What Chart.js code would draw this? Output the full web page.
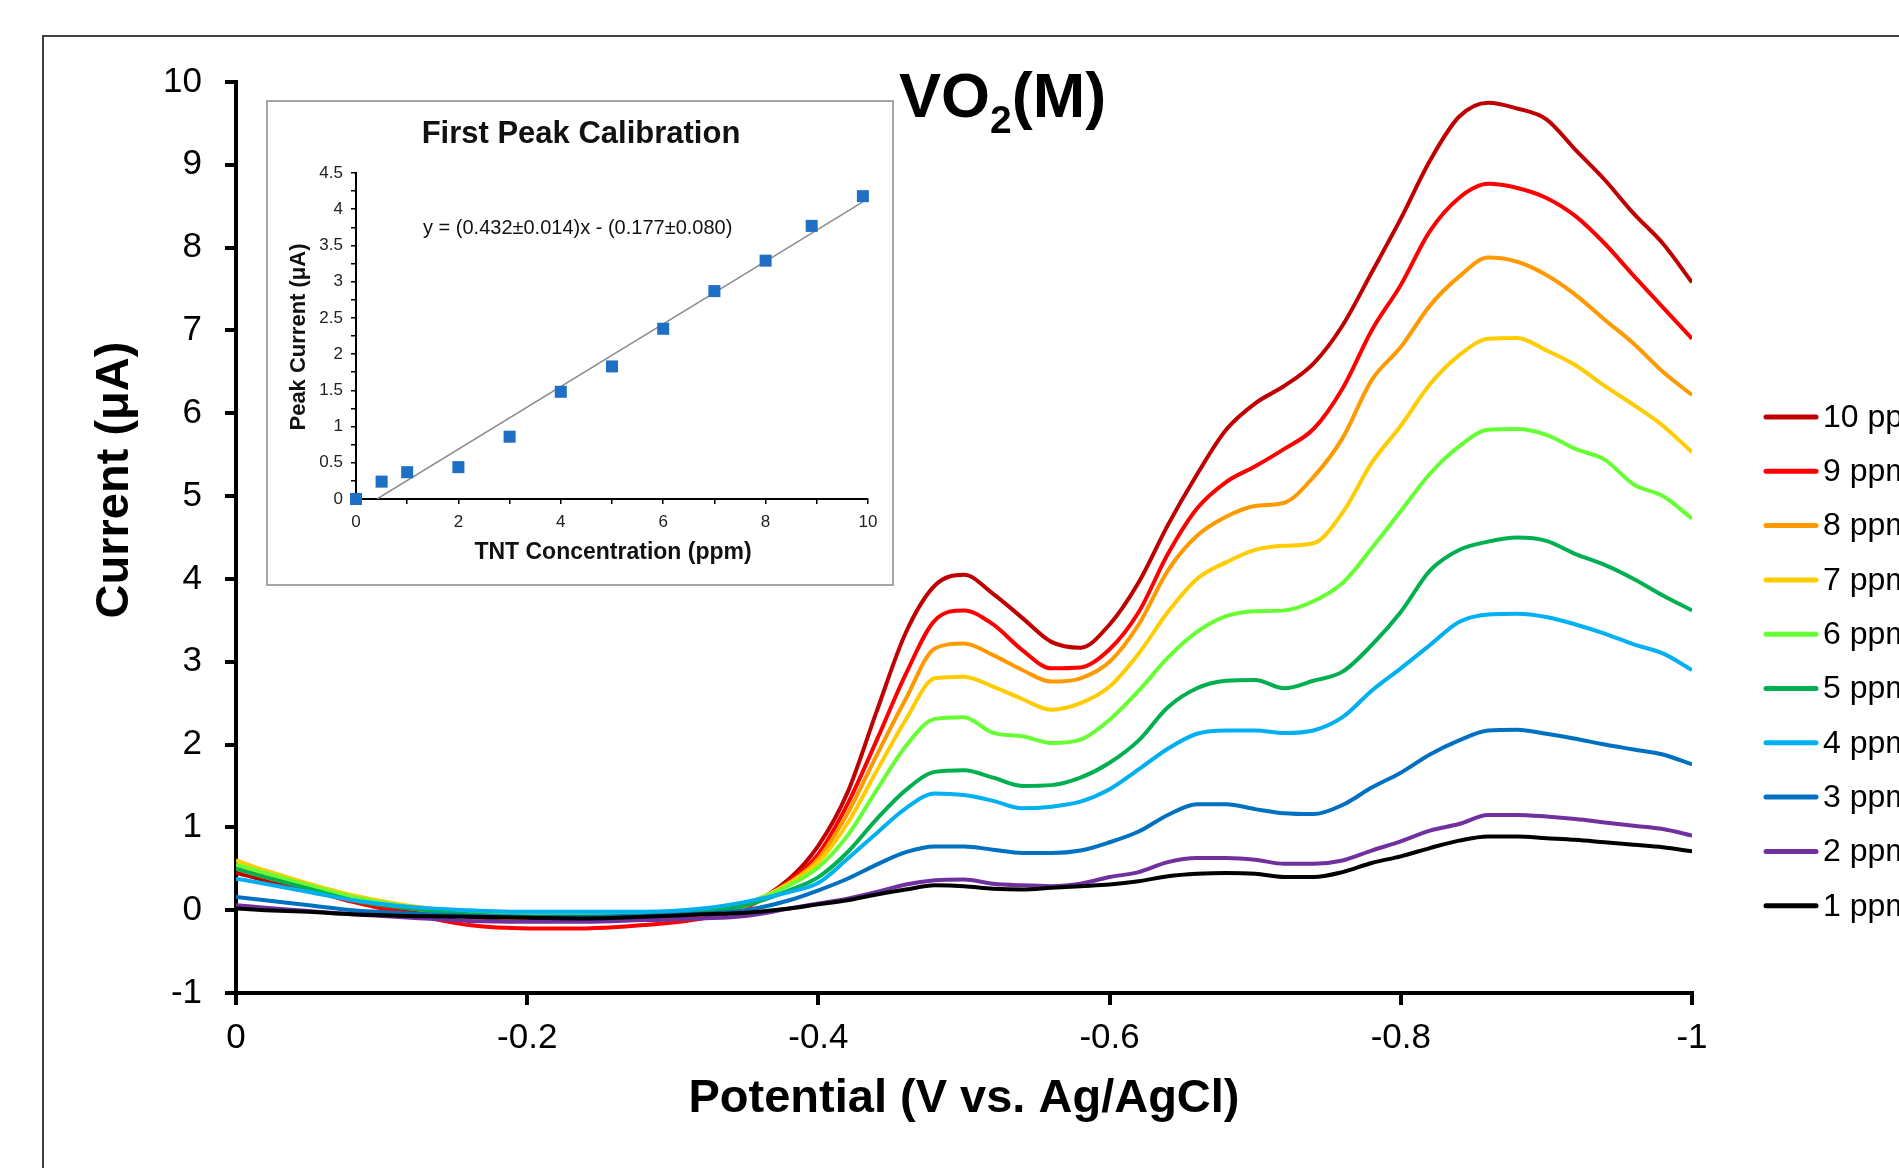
<!DOCTYPE html>
<html>
<head>
<meta charset="utf-8">
<title>VO2(M) - TNT voltammograms</title>
<script src="https://cdn.jsdelivr.net/npm/chart.js@4.4.1/dist/chart.umd.min.js"></script>
<style>
  html, body { margin: 0; padding: 0; background: #fff; overflow: hidden; }
  #wrap { position: relative; width: 1899px; height: 1168px; }
  #mainChart { position: absolute; left: 0; top: 0; }
  #insetBox { position: absolute; left: 266px; top: 100px; width: 624px; height: 482px;
              border: 2px solid #a6a6a6; background: #fff; }
  #insetChart { display: block; }
</style>
</head>
<body>
<div id="wrap">
  <canvas id="mainChart" width="1899" height="1168"></canvas>
  <div id="insetBox"><canvas id="insetChart" width="624" height="482"></canvas></div>
</div>
<script>
// Potential axis (V vs. Ag/AgCl), shared by every curve
const potential = [0, -0.02, -0.05, -0.08, -0.12, -0.16, -0.20, -0.24, -0.28, -0.32, -0.35,
  -0.38, -0.40, -0.42, -0.44, -0.46, -0.48, -0.50, -0.52, -0.54, -0.56, -0.58,
  -0.60, -0.62, -0.64, -0.66, -0.68, -0.70, -0.72, -0.74, -0.76, -0.78, -0.80,
  -0.82, -0.84, -0.86, -0.88, -0.90, -0.92, -0.94, -0.96, -0.98, -1.00];

// Current (uA) for each TNT concentration
const ppm10 = [0.45, 0.36, 0.24, 0.12, 0.0, -0.08, -0.12, -0.12, -0.1, -0.05, 0.05,
  0.38, 0.78, 1.42, 2.4, 3.35, 3.92, 4.05, 3.82, 3.53, 3.24, 3.17,
  3.45, 3.96, 4.65, 5.26, 5.8, 6.12, 6.33, 6.6, 7.06, 7.7, 8.35,
  9.05, 9.58, 9.75, 9.68, 9.55, 9.18, 8.82, 8.41, 8.05, 7.58];
const ppm9 = [0.5, 0.4, 0.25, 0.1, -0.05, -0.18, -0.22, -0.22, -0.18, -0.1, 0.03,
  0.35, 0.68, 1.28, 2.05, 2.85, 3.5, 3.62, 3.45, 3.14, 2.92, 2.93,
  3.15, 3.6, 4.3, 4.85, 5.17, 5.36, 5.57, 5.81, 6.3, 7.0, 7.55,
  8.2, 8.6, 8.77, 8.72, 8.6, 8.38, 8.05, 7.66, 7.28, 6.9];
const ppm8 = [0.5, 0.4, 0.27, 0.14, 0.02, -0.06, -0.1, -0.1, -0.08, -0.03, 0.05,
  0.33, 0.62, 1.17, 1.87, 2.55, 3.16, 3.22, 3.08, 2.9, 2.76, 2.8,
  3.0, 3.45, 4.1, 4.52, 4.75, 4.88, 4.92, 5.23, 5.7, 6.4, 6.8,
  7.3, 7.65, 7.88, 7.83, 7.67, 7.43, 7.13, 6.84, 6.5, 6.22];
const ppm7 = [0.6, 0.48, 0.32, 0.18, 0.05, -0.03, -0.06, -0.06, -0.05, -0.01, 0.08,
  0.33, 0.58, 1.05, 1.68, 2.3, 2.8, 2.82, 2.7, 2.55, 2.42, 2.5,
  2.7, 3.1, 3.6, 4.0, 4.2, 4.35, 4.4, 4.43, 4.8, 5.4, 5.85,
  6.35, 6.7, 6.9, 6.91, 6.76, 6.58, 6.33, 6.1, 5.85, 5.53];
const ppm6 = [0.55, 0.45, 0.3, 0.16, 0.04, -0.03, -0.06, -0.06, -0.05, -0.01, 0.08,
  0.3, 0.52, 0.9, 1.45, 1.98, 2.31, 2.33, 2.14, 2.1, 2.02, 2.06,
  2.3, 2.65, 3.05, 3.36, 3.55, 3.61, 3.62, 3.73, 3.95, 4.37, 4.82,
  5.27, 5.6, 5.8, 5.81, 5.74, 5.57, 5.44, 5.14, 5.0, 4.73];
const ppm5 = [0.5, 0.4, 0.26, 0.12, 0.02, -0.05, -0.08, -0.08, -0.06, -0.02, 0.06,
  0.24, 0.4, 0.7, 1.1, 1.45, 1.67, 1.69, 1.6, 1.5, 1.51, 1.6,
  1.78, 2.05, 2.45, 2.68, 2.77, 2.78, 2.68, 2.77, 2.88, 3.2, 3.6,
  4.1, 4.35, 4.45, 4.5, 4.46, 4.3, 4.17, 4.0, 3.8, 3.62];
const ppm4 = [0.38, 0.32, 0.22, 0.12, 0.04, 0.0, -0.02, -0.02, -0.02, 0.02, 0.1,
  0.22, 0.33, 0.62, 0.93, 1.23, 1.41, 1.39, 1.32, 1.23, 1.25, 1.31,
  1.46, 1.7, 1.95, 2.13, 2.17, 2.17, 2.14, 2.17, 2.33, 2.65, 2.92,
  3.2, 3.48, 3.57, 3.58, 3.54, 3.45, 3.34, 3.21, 3.1, 2.9];
const ppm3 = [0.16, 0.12, 0.06, 0.0, -0.04, -0.07, -0.08, -0.08, -0.07, -0.04, 0.0,
  0.12, 0.24, 0.38, 0.55, 0.7, 0.77, 0.77, 0.73, 0.69, 0.69, 0.72,
  0.82, 0.95, 1.15, 1.28, 1.28, 1.22, 1.17, 1.16, 1.27, 1.48, 1.66,
  1.88, 2.05, 2.17, 2.18, 2.13, 2.07, 2.0, 1.94, 1.88, 1.76];
const ppm2 = [0.06, 0.03, -0.01, -0.05, -0.09, -0.13, -0.14, -0.14, -0.12, -0.1, -0.07,
  0.02, 0.08, 0.14, 0.22, 0.31, 0.36, 0.37, 0.32, 0.3, 0.29, 0.32,
  0.4, 0.46, 0.58, 0.63, 0.63, 0.61, 0.56, 0.56, 0.6, 0.72, 0.83,
  0.96, 1.04, 1.15, 1.15, 1.13, 1.1, 1.06, 1.02, 0.98, 0.9];
const ppm1 = [0.02, 0.0, -0.02, -0.05, -0.07, -0.08, -0.09, -0.1, -0.08, -0.05, -0.03,
  0.02, 0.07, 0.12, 0.19, 0.25, 0.3, 0.29, 0.26, 0.25, 0.27, 0.29,
  0.31, 0.35, 0.41, 0.44, 0.45, 0.44, 0.4, 0.4, 0.46, 0.57, 0.65,
  0.75, 0.84, 0.89, 0.89, 0.87, 0.85, 0.82, 0.79, 0.76, 0.71];

// 1 ppm first so that it is painted on top (Chart.js draws dataset 0 last)
const seriesLabels = ['1 ppm', '2 ppm', '3 ppm', '4 ppm', '5 ppm', '6 ppm', '7 ppm', '8 ppm', '9 ppm', '10 ppm'];
const seriesColors = ['#000000', '#7030a0', '#0070c0', '#00b0f0', '#00b050', '#66ff33', '#ffcc00', '#ff9900', '#ff0000', '#c00000'];
const seriesValues = [ppm1, ppm2, ppm3, ppm4, ppm5, ppm6, ppm7, ppm8, ppm9, ppm10];

// Inset: first peak calibration
const tntConc = [0, 0.5, 1, 2, 3, 4, 5, 6, 7, 8, 8.9, 9.9];
const peakCurrent = [0, 0.24, 0.37, 0.44, 0.86, 1.48, 1.83, 2.35, 2.87, 3.29, 3.77, 4.18];
const fitConc = [0.41, 9.9];
const fitCurrent = [0, 4.1];

const FONT = "'Liberation Sans', Arial, sans-serif";
Chart.defaults.font.family = FONT;
Chart.defaults.color = '#000';

function toPoints(xs, ys) {
    return xs.map((x, i) => ({ x: x, y: ys[i] }));
}

// Frame, title, axis titles and legend of the main chart
const mainDecor = {
    id: 'mainDecor',
    beforeDraw(chart) {
        const ctx = chart.ctx;
        ctx.save();
        ctx.fillStyle = '#fff';
        ctx.fillRect(0, 0, chart.width, chart.height);
        ctx.strokeStyle = '#404040';
        ctx.lineWidth = 2;
        ctx.strokeRect(43, 36, chart.width, chart.height);
        ctx.restore();
    },
    afterDraw(chart) {
        const ctx = chart.ctx;
        const area = chart.chartArea;
        ctx.save();
        ctx.fillStyle = '#000';

        // VO2(M) with subscript
        ctx.textBaseline = 'alphabetic';
        ctx.textAlign = 'left';
        let x = 899;
        ctx.font = 'bold 63px ' + FONT;
        ctx.fillText('VO', x, 117);
        x += ctx.measureText('VO').width;
        ctx.font = 'bold 39px ' + FONT;
        ctx.fillText('2', x, 133);
        x += ctx.measureText('2').width;
        ctx.font = 'bold 63px ' + FONT;
        ctx.fillText('(M)', x, 117);

        // axis titles
        ctx.font = 'bold 47px ' + FONT;
        ctx.textAlign = 'center';
        ctx.fillText('Potential (V vs. Ag/AgCl)', (area.left + area.right) / 2, 1112);
        ctx.textBaseline = 'middle';
        ctx.save();
        ctx.translate(115, 480);
        ctx.rotate(-Math.PI / 2);
        ctx.fillText('Current (\u03bcA)', 0, 0);
        ctx.restore();

        // legend, 10 ppm at the top
        ctx.font = '32px ' + FONT;
        ctx.textAlign = 'left';
        ctx.lineCap = 'round';
        ctx.lineWidth = 5;
        for (let i = 0; i < seriesLabels.length; i++) {
            const idx = seriesLabels.length - 1 - i;
            const y = 417 + i * 54.3;
            ctx.strokeStyle = seriesColors[idx];
            ctx.beginPath();
            ctx.moveTo(1766, y);
            ctx.lineTo(1816, y);
            ctx.stroke();
            ctx.fillText(seriesLabels[idx], 1823, y + 1);
        }
        ctx.restore();
    }
};

new Chart(document.getElementById('mainChart'), {
    type: 'line',
    data: {
        datasets: seriesValues.map((vals, i) => ({
            label: seriesLabels[i],
            data: toPoints(potential, vals),
            borderColor: seriesColors[i],
            backgroundColor: seriesColors[i],
            borderWidth: 4,
            pointRadius: 0,
            fill: false,
            cubicInterpolationMode: 'monotone'
        }))
    },
    options: {
        responsive: false,
        animation: false,
        layout: { padding: { left: 0, top: 82, right: 207, bottom: 0 } },
        plugins: {
            legend: { display: false },
            tooltip: { enabled: false }
        },
        scales: {
            x: {
                type: 'linear',
                reverse: true,
                min: -1,
                max: 0,
                ticks: {
                    stepSize: 0.2,
                    autoSkip: false,
                    maxRotation: 0,
                    padding: 12,
                    color: '#000',
                    font: { size: 35 },
                    callback: v => String(Math.round(v * 10) / 10)
                },
                grid: { drawOnChartArea: false, drawTicks: true, tickLength: 12, color: '#000', lineWidth: 4 },
                border: { display: true, color: '#000', width: 4 },
                afterFit: scale => { scale.height = 175; }
            },
            y: {
                type: 'linear',
                min: -1,
                max: 10,
                ticks: {
                    stepSize: 1,
                    autoSkip: false,
                    padding: 23,
                    color: '#000',
                    font: { size: 35 }
                },
                grid: { drawOnChartArea: false, drawTicks: true, tickLength: 11, color: '#000', lineWidth: 4 },
                border: { display: true, color: '#000', width: 4 },
                afterFit: scale => { scale.width = 236; }
            }
        }
    },
    plugins: [mainDecor]
});

// Title, fit equation and axis titles of the inset
const insetDecor = {
    id: 'insetDecor',
    afterDraw(chart) {
        const ctx = chart.ctx;
        ctx.save();
        ctx.fillStyle = '#111';
        ctx.textBaseline = 'middle';
        ctx.textAlign = 'center';
        ctx.font = 'bold 31px ' + FONT;
        ctx.fillText('First Peak Calibration', 313, 32);

        ctx.font = '20px ' + FONT;
        ctx.textAlign = 'left';
        ctx.fillText('y = (0.432\u00b10.014)x - (0.177\u00b10.080)', 155, 126);

        ctx.textAlign = 'center';
        ctx.font = 'bold 23px ' + FONT;
        ctx.fillText('TNT Concentration (ppm)', 345, 451);
        ctx.save();
        ctx.translate(31, 235);
        ctx.rotate(-Math.PI / 2);
        ctx.font = 'bold 22px ' + FONT;
        ctx.fillText('Peak Current (\u03bcA)', 0, 0);
        ctx.restore();
        ctx.restore();
    }
};

new Chart(document.getElementById('insetChart'), {
    type: 'scatter',
    data: {
        datasets: [
            {
                data: toPoints(tntConc, peakCurrent),
                pointStyle: 'rect',
                pointRadius: 8.5,
                backgroundColor: '#1f6fc4',
                borderColor: '#1f6fc4',
                borderWidth: 0,
                clip: false
            },
            {
                type: 'line',
                data: toPoints(fitConc, fitCurrent),
                borderColor: '#8c8c8c',
                borderWidth: 1.5,
                pointRadius: 0,
                fill: false
            }
        ]
    },
    options: {
        responsive: false,
        animation: false,
        layout: { padding: { left: 0, top: 71, right: 24, bottom: 0 } },
        plugins: {
            legend: { display: false },
            tooltip: { enabled: false }
        },
        scales: {
            x: {
                type: 'linear',
                min: 0,
                max: 10,
                ticks: {
                    stepSize: 1,
                    autoSkip: false,
                    maxRotation: 0,
                    padding: 8,
                    color: '#222',
                    font: { size: 17 },
                    callback: v => (v % 2 === 0 ? String(v) : '')
                },
                grid: { drawOnChartArea: false, drawTicks: true, tickLength: 5, color: '#000', lineWidth: 1.5 },
                border: { display: true, color: '#000', width: 2 },
                afterFit: scale => { scale.height = 85; }
            },
            y: {
                type: 'linear',
                min: 0,
                max: 4.5,
                ticks: {
                    stepSize: 0.25,
                    autoSkip: false,
                    padding: 8,
                    color: '#222',
                    font: { size: 17 },
                    callback: v => (Math.abs(v * 2 - Math.round(v * 2)) < 1e-6 ? String(v) : '')
                },
                grid: { drawOnChartArea: false, drawTicks: true, tickLength: 5, color: '#000', lineWidth: 1.5 },
                border: { display: true, color: '#000', width: 2 },
                afterFit: scale => { scale.width = 88; }
            }
        }
    },
    plugins: [insetDecor]
});
</script>
</body>
</html>
